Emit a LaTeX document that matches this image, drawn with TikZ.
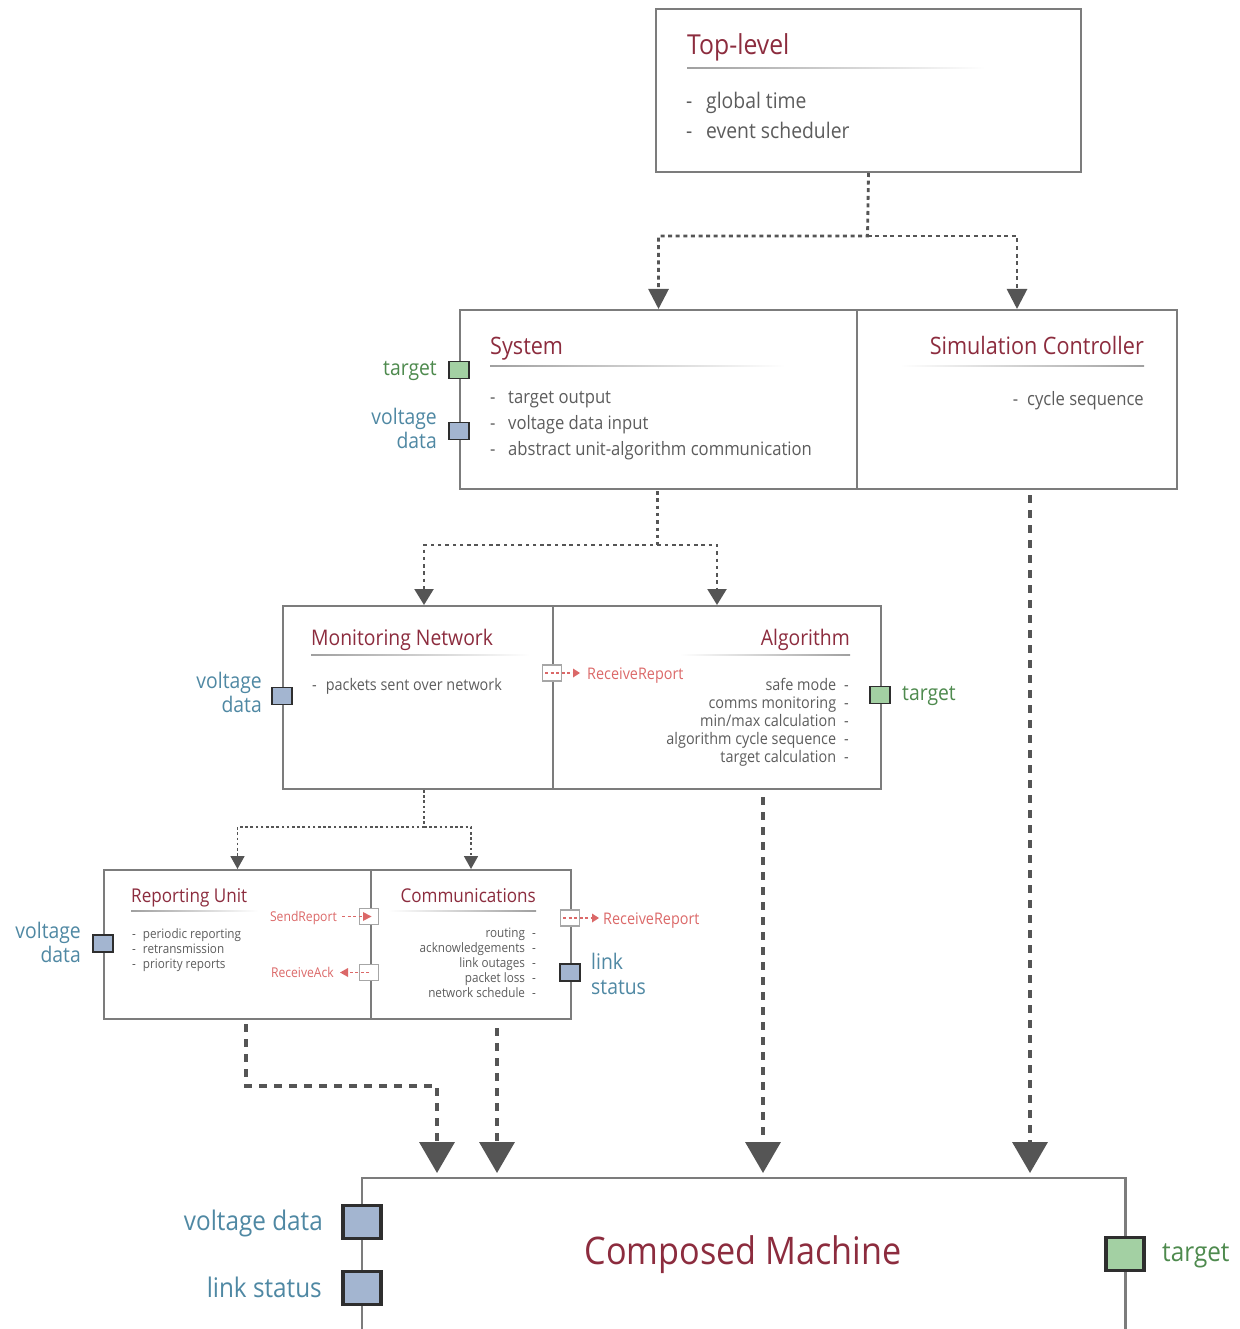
\documentclass[tikz,border=0pt]{standalone}
\usepackage{fontspec}
\setmainfont{Open Sans}[FakeStretch=0.9]
\usetikzlibrary{arrows.meta}

\definecolor{titlered}{HTML}{8C2C3E}
\definecolor{bodygray}{HTML}{5C5C5C}
\definecolor{edgegray}{HTML}{7C7C7C}
\definecolor{arrgray}{HTML}{555555}
\definecolor{portblue}{HTML}{A3B5D0}
\definecolor{portgreen}{HTML}{A3D0A3}
\definecolor{portedge}{HTML}{2E2E2E}
\definecolor{lblblue}{HTML}{4F88A3}
\definecolor{lblgreen}{HTML}{4E8A4E}
\definecolor{evred}{HTML}{DB6868}

\newcommand{\fs}[1]{\fontsize{#1}{#1}\selectfont}

\tikzset{
  box/.style={draw=edgegray, line width=2pt, anchor=north west, inner sep=0pt},
  title/.style={text=titlered, inner sep=0pt},
  body/.style={text=bodygray, inner sep=0pt},
  bluelbl/.style={text=lblblue, inner sep=0pt},
  greenlbl/.style={text=lblgreen, inner sep=0pt},
  evlbl/.style={text=evred, inner sep=0pt},
  smallport/.style={draw=portedge, line width=1.8pt, minimum width=20pt, minimum height=17pt, inner sep=0pt},
  bigport/.style={draw=portedge, line width=3.6pt, minimum width=38pt, minimum height=33pt, inner sep=0pt},
  evport/.style={draw=gray!70, fill=white, line width=1.1pt, minimum width=19pt, minimum height=16pt, inner sep=0pt},
  flowA/.style={draw=arrgray, line width=2.8pt, dash pattern=on 4pt off 3.6pt,
    -{Triangle[width=20pt,length=20pt]}, color=arrgray},
  flowB/.style={draw=arrgray, line width=2.3pt, dash pattern=on 3.5pt off 3.8pt,
    -{Triangle[width=19pt,length=16pt]}, color=arrgray},
  flowC/.style={draw=arrgray, line width=1.7pt, dash pattern=on 2.6pt off 2.6pt,
    -{Triangle[width=14pt,length=13pt]}, color=arrgray},
  flowD/.style={draw=arrgray, line width=3.6pt, dash pattern=on 7.5pt off 7.5pt,
    -{Triangle[width=35pt,length=31pt]}, color=arrgray},
  evflow/.style={draw=evred, line width=1.1pt, dash pattern=on 3pt off 2.5pt},
  evtip/.style={fill=evred, draw=none},
}

% underline under a title, fading towards the open side
\newcommand{\ruleR}[3]{\shade[left color=gray!75, right color=white] (#1,#3-0.6) rectangle (#2,#3+0.6);}
\newcommand{\ruleL}[3]{\shade[left color=white, right color=gray!75] (#1,#3-0.6) rectangle (#2,#3+0.6);}

\begin{document}
\begin{tikzpicture}[x=1pt, y=-1pt]
\useasboundingbox (0,0) rectangle (1239,1329);

%% ---------- Top level ----------
\node[box, minimum width=425pt, minimum height=163pt] (top) at (655,8) {};
\node[title, anchor=base west] (toptitle) at (687,55) {\fs{27.5}Top-level};
\ruleR{687}{985}{68}
\node[body, anchor=base west] (topd1) at (686,109) {\fs{21.5}-};
\node[body, anchor=base west] (topi1) at (706,109) {\fs{21.5}global time};
\node[body, anchor=base west] (topd2) at (686,139) {\fs{21.5}-};
\node[body, anchor=base west] (topi2) at (706,139) {\fs{21.5}event scheduler};

%% ---------- System / Simulation Controller ----------
\node[box, minimum width=397pt, minimum height=179pt] (sys) at (459,309) {};
\node[box, minimum width=320pt, minimum height=179pt] (sim) at (856,309) {};

\node[title, anchor=base west] (systitle) at (490,354) {\fs{24}System};
\ruleR{490}{785}{366}
\node[body, anchor=base west] (sysd1) at (490,403) {\fs{18.5}-};
\node[body, anchor=base west] (sysi1) at (508,403) {\fs{18.5}target output};
\node[body, anchor=base west] (sysd2) at (490,429) {\fs{18.5}-};
\node[body, anchor=base west] (sysi2) at (508,429) {\fs{18.5}voltage data input};
\node[body, anchor=base west] (sysd3) at (490,455) {\fs{18.5}-};
\node[body, anchor=base west] (sysi3) at (508,455) {\fs{18.5}abstract unit-algorithm communication};

\node[title, anchor=base east] (simtitle) at (1144,354) {\fs{24}Simulation Controller};
\ruleL{900}{1144}{366}
\node[body, anchor=base east] (simi1) at (1144,405) {\fs{18.5}-\hspace{9pt}cycle sequence};

\node[smallport, fill=portgreen] (systgt) at (459,370) {};
\node[smallport, fill=portblue] (sysvd) at (459,431) {};
\node[greenlbl, anchor=base east] (systgtl) at (437,375) {\fs{21.5}target};
\node[bluelbl, anchor=base east] (sysvdl1) at (437,424) {\fs{21.5}voltage};
\node[bluelbl, anchor=base east] (sysvdl2) at (437,448) {\fs{21.5}data};

%% ---------- Monitoring Network / Algorithm ----------
\node[box, minimum width=270pt, minimum height=183pt] (mn) at (282,605) {};
\node[box, minimum width=328pt, minimum height=183pt] (alg) at (552,605) {};

\node[title, anchor=base west] (mntitle) at (311,645) {\fs{21.5}Monitoring Network};
\ruleR{311}{530}{655}
\node[body, anchor=base west] (mni1) at (312,690) {\fs{16}-\hspace{9pt}packets sent over network};

\node[title, anchor=base east] (algtitle) at (850,645) {\fs{21.5}Algorithm};
\ruleL{680}{850}{655}
\node[body, anchor=base east] (algi1) at (849,690) {\fs{16}safe mode\hspace{8pt}-};
\node[body, anchor=base east] (algi2) at (849,708) {\fs{16}comms monitoring\hspace{8pt}-};
\node[body, anchor=base east] (algi3) at (849,726) {\fs{16}min/max calculation\hspace{8pt}-};
\node[body, anchor=base east] (algi4) at (849,744) {\fs{16}algorithm cycle sequence\hspace{8pt}-};
\node[body, anchor=base east] (algi5) at (849,762) {\fs{16}target calculation\hspace{8pt}-};

\node[smallport, fill=portblue] (mnvd) at (282,696) {};
\node[bluelbl, anchor=base east] (mnvdl1) at (262,688) {\fs{21.5}voltage};
\node[bluelbl, anchor=base east] (mnvdl2) at (262,712) {\fs{21.5}data};

\node[smallport, fill=portgreen] (algtgt) at (880,695) {};
\node[greenlbl, anchor=base west] (algtgtl) at (902,700) {\fs{21.5}target};

% ReceiveReport event on the algorithm
\node[evport] (algrr) at (552,673) {};
\coordinate (algrrtip) at (573,673);
\draw[evflow] (545,673) -- (algrrtip);
\fill[evtip] (573,668.5) -- (580,673) -- (573,677.5) -- cycle;
\node[evlbl, anchor=base west] (algrrl) at (587,679) {\fs{16}ReceiveReport};

%% ---------- Reporting Unit / Communications ----------
\node[box, minimum width=267pt, minimum height=149pt] (ru) at (103,869) {};
\node[box, minimum width=200pt, minimum height=149pt] (com) at (370,869) {};

\node[title, anchor=base west] (rutitle) at (131,902) {\fs{19}Reporting Unit};
\ruleR{131}{258}{911}
\node[body, anchor=base west] (rui1) at (132,938) {\fs{13}-\hspace{7pt}periodic reporting};
\node[body, anchor=base west] (rui2) at (132,953) {\fs{13}-\hspace{7pt}retransmission};
\node[body, anchor=base west] (rui3) at (132,968) {\fs{13}-\hspace{7pt}priority reports};

\node[title, anchor=base east] (comtitle) at (536,902) {\fs{19}Communications};
\ruleL{388}{536}{911}
\node[body, anchor=base east] (comi1) at (536,937) {\fs{13}routing\hspace{7pt}-};
\node[body, anchor=base east] (comi2) at (536,952) {\fs{13}acknowledgements\hspace{7pt}-};
\node[body, anchor=base east] (comi3) at (536,967) {\fs{13}link outages\hspace{7pt}-};
\node[body, anchor=base east] (comi4) at (536,982) {\fs{13}packet loss\hspace{7pt}-};
\node[body, anchor=base east] (comi5) at (536,997) {\fs{13}network schedule\hspace{7pt}-};

\node[smallport, fill=portblue] (ruvd) at (103,943.5) {};
\node[bluelbl, anchor=base east] (ruvdl1) at (81,938) {\fs{21.5}voltage};
\node[bluelbl, anchor=base east] (ruvdl2) at (81,962) {\fs{21.5}data};

% SendReport event
\node[evport] (rusr) at (369,916.5) {};
\node[evlbl, anchor=base east] (rusrl) at (337,921) {\fs{13.5}SendReport};
\draw[evflow] (342,916.5) -- (363,916.5);
\fill[evtip] (363,912) -- (371.5,916.5) -- (363,921) -- cycle;

% ReceiveAck event
\node[evport] (rura) at (369,972.5) {};
\node[evlbl, anchor=base east] (rural) at (334,977) {\fs{13.5}ReceiveAck};
\draw[evflow] (rura.center) -- (348,972.5);
\fill[evtip] (340,972.5) -- (348,968) -- (348,977) -- cycle;

% ReceiveReport event on communications
\node[evport] (comrr) at (570,918) {};
\coordinate (comrrtip) at (592,918);
\draw[evflow] (563,918) -- (comrrtip);
\fill[evtip] (592,913.5) -- (599,918) -- (592,922.5) -- cycle;
\node[evlbl, anchor=base west] (comrrl) at (603,924) {\fs{16}ReceiveReport};

\node[smallport, fill=portblue] (comls) at (570,972.5) {};
\node[bluelbl, anchor=base west] (comlsl1) at (591,969) {\fs{21.5}link};
\node[bluelbl, anchor=base west] (comlsl2) at (591,994) {\fs{21.5}status};

%% ---------- Composed Machine ----------
\node[anchor=north west, minimum width=763pt, minimum height=151pt, inner sep=0pt] (cm) at (362,1178) {};
\draw[edgegray, line width=2.8pt] (cm.south west) -- (cm.north west) -- (cm.north east) -- (cm.south east);
\node[title, anchor=base] (cmtitle) at (743,1264) {\fs{38}Composed Machine};

\node[bigport, fill=portblue] (cmvd) at (362,1222) {};
\node[bigport, fill=portblue] (cmls) at (362,1288) {};
\node[bigport, fill=portgreen] (cmtgt) at (1125,1254) {};
\node[bluelbl, anchor=base east] (cmvdl) at (323,1230) {\fs{27}voltage data};
\node[bluelbl, anchor=base east] (cmlsl) at (322,1297) {\fs{27}link status};
\node[greenlbl, anchor=base west] (cmtgtl) at (1162,1261) {\fs{27}target};

%% ---------- Connectors ----------
% top level distributes to system and simulation controller
\coordinate (j1) at (867.5,236);
\draw[flowA] (top.south) -- (j1) -| (sys.north);
\draw[flowA] (j1) -| (sim.north);

% system distributes to monitoring network and algorithm
\coordinate (sysout) at (657.5,491);
\coordinate (j2) at (657.5,545);
\coordinate (mnin) at (424,605);
\draw[flowB] (sysout) -- (j2) -| (mnin);
\draw[flowB] (j2) -| (alg.north);

% monitoring network distributes to reporting unit and communications
\coordinate (mnout) at (424,790);
\coordinate (j3) at (424,827);
\draw[flowC] (mnout) -- (j3) -| (ru.north);
\draw[flowC] (j3) -| (com.north);

% everything is gathered into the composed machine
\coordinate (ruout) at (246,1024);
\coordinate (cmin1) at (437,1173);
\draw[flowD] (ruout) -- (246,1086) -| (cmin1);
\coordinate (comout) at (497,1028);
\coordinate (cmin2) at (497,1173);
\draw[flowD] (comout) -- (cmin2);
\coordinate (algout) at (763,797);
\coordinate (cmin3) at (763,1173);
\draw[flowD] (algout) -- (cmin3);
\coordinate (simout) at (1030,495);
\coordinate (cmin4) at (1030,1173);
\draw[flowD] (simout) -- (cmin4);
\end{tikzpicture}
\end{document}
